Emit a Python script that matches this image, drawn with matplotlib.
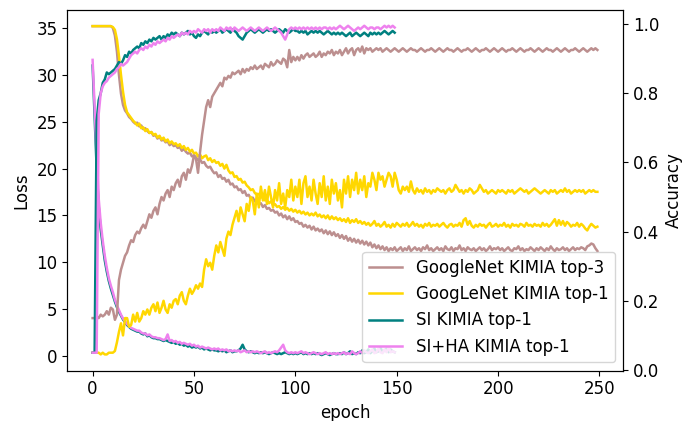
#!/usr/bin/env python
"""
Training curves (loss and accuracy) for the GoogLeNet and SI models on KIMIA.
Loss is read on the left axis, accuracy on the right one.
"""

import numpy as np
import matplotlib
matplotlib.use("Agg")
import matplotlib.pyplot as plt

# Legend labels, in the order they appear
labels = ["GoogleNet KIMIA top-3", "GoogLeNet KIMIA top-1", "SI KIMIA top-1", "SI+HA KIMIA top-1"]

# GoogLeNet top-1 loss (250 epochs)
gnet_top1_loss = [
    35.2, 35.2, 35.2, 35.2, 35.2, 35.2, 35.2, 35.2, 35.2, 35.2,
    35.1, 34.8, 33.8, 32.0, 30.0, 28.2, 26.8, 26.0, 25.7, 25.4, 25.1,
    24.9, 24.6, 24.8, 24.3, 24.4, 24.0, 24.2, 23.8, 23.9, 23.6,
    23.7, 23.3, 23.5, 23.1, 23.3, 22.9, 23.1, 22.7, 22.9, 22.6,
    22.7, 22.4, 22.6, 22.2, 22.4, 22.0, 22.2, 21.8, 22.0, 21.6,
    21.7, 21.3, 21.5, 21.1, 21.3, 21.4, 20.9, 21.1, 20.7, 20.9,
    20.6, 20.7, 20.3, 20.5, 20.0, 20.4, 19.8, 19.5, 19.6, 19.1,
    19.2, 18.8, 18.9, 18.5, 18.6, 18.2, 18.0, 17.7, 17.8, 17.4,
    17.2, 17.3, 16.9, 17.0, 16.6, 16.7, 16.3, 16.5, 16.1, 16.2,
    15.9, 16.0, 15.7, 15.9, 15.6, 15.8, 15.5, 15.7, 15.4, 15.6,
    15.3, 15.5, 15.2, 15.4, 15.1, 15.3, 15.0, 15.2, 15.0, 15.3,
    14.9, 15.1, 14.8, 15.0, 14.7, 15.0, 14.6, 14.9, 14.6, 14.8,
    14.5, 14.7, 14.4, 14.6, 14.3, 14.7, 14.2, 14.5, 14.3, 14.6,
    14.2, 14.4, 14.1, 14.3, 14.0, 14.2, 13.9, 14.1, 14.4, 13.9,
    14.1, 13.8, 14.0, 14.3, 13.8, 14.0, 13.7, 14.1, 13.8, 14.2,
    14.0, 13.8, 14.1, 13.9, 14.2, 13.8, 14.0, 14.3, 13.9, 14.1,
    13.8, 14.0, 13.7, 14.1, 13.9, 14.2, 13.8, 14.0, 13.9, 14.1,
    13.8, 14.0, 14.2, 13.9, 13.7, 14.0, 14.1, 13.8, 14.0, 13.9,
    14.2, 13.8, 14.5, 14.7, 14.0, 14.4, 13.9, 13.7, 14.0, 13.8,
    14.1, 13.9, 14.0, 13.7, 14.0, 14.2, 13.8, 13.9, 14.1, 13.8,
    14.0, 13.9, 14.2, 13.8, 14.0, 13.7, 14.1, 13.9, 14.0, 13.8,
    14.1, 14.0, 13.8, 14.2, 13.9, 14.0, 13.8, 14.1, 13.9, 14.0,
    13.8, 14.2, 13.9, 14.1, 13.8, 14.0, 14.3, 14.6, 13.9, 14.5,
    14.0, 14.4, 13.9, 14.3, 14.1, 13.8, 14.0, 13.9, 14.2, 13.8,
    14.1, 13.9, 13.6, 13.4, 13.8, 14.1, 13.9, 13.7, 13.8,
]

# GoogLeNet top-3 loss (250 epochs)
gnet_top3_loss = [
    35.2, 35.2, 35.2, 35.2, 35.2, 35.2, 35.2, 35.2, 35.2, 35.2,
    35.0, 34.2, 32.5, 30.0, 28.0, 26.8, 26.2, 25.9, 25.5, 25.3, 25.0,
    24.8, 24.9, 24.5, 24.6, 24.2, 24.3, 24.0, 23.8, 23.9, 23.5,
    23.6, 23.2, 23.4, 23.0, 23.1, 22.8, 22.9, 22.5, 22.7, 22.4,
    22.5, 22.2, 22.3, 21.9, 22.1, 21.8, 21.6, 21.7, 21.3, 21.4,
    21.2, 20.9, 21.0, 20.6, 20.7, 20.3, 20.1, 20.2, 19.8, 19.5,
    19.6, 19.1, 19.3, 18.9, 19.0, 18.6, 18.8, 18.3, 18.4, 18.0,
    18.1, 17.7, 17.8, 17.4, 17.6, 17.1, 17.2, 16.8, 16.9, 16.5,
    16.6, 16.2, 16.3, 15.9, 16.1, 15.7, 15.8, 15.5, 15.6, 15.3,
    15.4, 15.0, 15.2, 14.8, 15.0, 14.6, 14.9, 14.5, 14.7, 14.3,
    14.4, 14.1, 14.2, 13.8, 14.0, 13.7, 13.9, 13.5, 13.8, 13.4,
    13.6, 13.3, 13.5, 13.1, 13.4, 13.0, 13.3, 12.9, 13.2, 12.8,
    13.0, 12.6, 12.9, 12.5, 12.8, 12.3, 12.6, 12.2, 12.5, 12.1,
    12.4, 12.0, 12.3, 11.9, 12.2, 11.8, 12.1, 11.6, 11.9, 11.5,
    11.8, 11.4, 11.7, 11.3, 11.6, 11.2, 11.5, 11.3, 11.6, 11.2,
    11.4, 11.6, 11.2, 11.5, 11.3, 11.7, 11.2, 11.4, 11.6, 11.3,
    11.5, 11.2, 11.6, 11.4, 11.8, 11.3, 11.5, 11.2, 11.4, 11.6,
    11.3, 11.5, 11.2, 11.7, 11.4, 11.3, 11.6, 11.2, 11.5, 11.4,
    11.8, 11.3, 11.5, 11.2, 11.6, 11.4, 11.3, 11.5, 11.2, 11.4,
    11.6, 11.3, 11.5, 11.2, 11.4, 11.7, 11.3, 11.5, 11.4, 11.6,
    11.3, 11.5, 11.2, 11.4, 11.6, 11.3, 11.2, 11.5, 11.4, 11.7,
    11.3, 11.5, 11.2, 11.4, 11.3, 11.6, 11.4, 11.2, 11.5, 11.3,
    11.6, 11.4, 11.2, 11.5, 11.3, 11.7, 11.4, 11.2, 11.5, 11.3,
    11.4, 11.6, 11.3, 11.5, 11.2, 11.4, 11.6, 11.3, 11.5, 11.4,
    11.6, 11.5, 11.3, 11.7, 11.8, 12.0, 11.9, 11.5, 11.2,
]

# GoogLeNet top-1 accuracy (250 epochs)
gnet_top1_acc = [
    0.05, 0.05, 0.05, 0.05, 0.045, 0.05, 0.045, 0.045, 0.05, 0.05, 0.05, 0.055,
    0.08, 0.11, 0.135, 0.10, 0.15, 0.15, 0.125, 0.13, 0.16,
    0.14, 0.165, 0.14, 0.15, 0.17, 0.16, 0.175, 0.16, 0.18, 0.19,
    0.17, 0.195, 0.165, 0.18, 0.20, 0.175, 0.165, 0.19, 0.18, 0.20,
    0.205, 0.19, 0.215, 0.225, 0.20, 0.19, 0.215, 0.235, 0.22, 0.23,
    0.245, 0.235, 0.25, 0.24, 0.29, 0.32, 0.30, 0.31, 0.29, 0.33,
    0.36, 0.34, 0.37, 0.35, 0.33, 0.38, 0.40, 0.39, 0.42, 0.44,
    0.46, 0.43, 0.47, 0.45, 0.43, 0.48, 0.46, 0.50, 0.49, 0.45,
    0.51, 0.47, 0.53, 0.49, 0.52, 0.48, 0.53, 0.50, 0.47, 0.52,
    0.49, 0.54, 0.48, 0.51, 0.47, 0.52, 0.50, 0.55, 0.49, 0.53,
    0.50, 0.55, 0.48, 0.54, 0.56, 0.50, 0.53, 0.49, 0.55, 0.51,
    0.48, 0.54, 0.50, 0.56, 0.49, 0.53, 0.48, 0.55, 0.51, 0.54,
    0.49, 0.52, 0.47, 0.55, 0.51, 0.56, 0.50, 0.55, 0.52, 0.57,
    0.51, 0.55, 0.52, 0.56, 0.50, 0.54, 0.53, 0.57, 0.55, 0.52,
    0.57, 0.55, 0.56, 0.53, 0.55, 0.57, 0.56, 0.53, 0.57, 0.55,
    0.52, 0.51, 0.53, 0.52, 0.53, 0.515, 0.545, 0.52, 0.51, 0.525,
    0.515, 0.52, 0.51, 0.525, 0.515, 0.52, 0.51, 0.52, 0.515, 0.525,
    0.52, 0.515, 0.52, 0.51, 0.52, 0.525, 0.515, 0.52, 0.535, 0.525,
    0.515, 0.52, 0.51, 0.52, 0.515, 0.525, 0.52, 0.51, 0.515, 0.52,
    0.535, 0.525, 0.515, 0.52, 0.51, 0.515, 0.52, 0.515, 0.51, 0.52,
    0.515, 0.52, 0.515, 0.51, 0.52, 0.515, 0.52, 0.51, 0.515, 0.52,
    0.525, 0.52, 0.515, 0.52, 0.51, 0.515, 0.52, 0.525, 0.52, 0.515,
    0.51, 0.515, 0.52, 0.515, 0.51, 0.52, 0.515, 0.52, 0.51, 0.515,
    0.52, 0.515, 0.525, 0.515, 0.52, 0.51, 0.515, 0.52, 0.515, 0.52,
    0.515, 0.52, 0.51, 0.515, 0.52, 0.515, 0.52, 0.515, 0.515,
]

# GoogLeNet top-3 accuracy (250 epochs)
gnet_top3_acc = [
    0.15, 0.15, 0.155, 0.15, 0.16, 0.155, 0.16, 0.17, 0.16, 0.18, 0.175, 0.145, 0.16,
    0.26, 0.29, 0.31, 0.33, 0.34, 0.36, 0.375, 0.37,
    0.39, 0.40, 0.395, 0.41, 0.42, 0.41, 0.43, 0.45, 0.44, 0.46,
    0.47, 0.45, 0.48, 0.50, 0.49, 0.51, 0.52, 0.50, 0.53, 0.52,
    0.54, 0.55, 0.53, 0.56, 0.57, 0.55, 0.58, 0.57, 0.59, 0.62,
    0.61, 0.57, 0.63, 0.68, 0.72, 0.76, 0.78, 0.76, 0.79, 0.80,
    0.81, 0.82, 0.83, 0.82, 0.845, 0.84, 0.85, 0.845, 0.86, 0.855,
    0.86, 0.865, 0.855, 0.87, 0.86, 0.87, 0.865, 0.875, 0.87, 0.88,
    0.87, 0.875, 0.88, 0.87, 0.885, 0.88, 0.875, 0.89, 0.88, 0.885,
    0.895, 0.89, 0.885, 0.90, 0.895, 0.875, 0.925, 0.89, 0.905, 0.895,
    0.905, 0.895, 0.91, 0.90, 0.91, 0.915, 0.905, 0.91, 0.915, 0.905,
    0.91, 0.92, 0.905, 0.915, 0.91, 0.92, 0.915, 0.925, 0.91, 0.92,
    0.915, 0.925, 0.91, 0.92, 0.93, 0.915, 0.925, 0.93, 0.91, 0.925,
    0.93, 0.92, 0.935, 0.915, 0.93, 0.925, 0.93, 0.92, 0.925, 0.93,
    0.925, 0.93, 0.92, 0.925, 0.93, 0.925, 0.92, 0.925, 0.93, 0.925,
    0.92, 0.925, 0.93, 0.925, 0.92, 0.925, 0.93, 0.925, 0.925, 0.92,
    0.925, 0.93, 0.925, 0.92, 0.925, 0.925, 0.93, 0.925, 0.92, 0.925,
    0.93, 0.925, 0.92, 0.925, 0.93, 0.925, 0.925, 0.92, 0.925, 0.93,
    0.925, 0.92, 0.925, 0.925, 0.93, 0.925, 0.92, 0.925, 0.93, 0.925,
    0.92, 0.925, 0.925, 0.93, 0.925, 0.92, 0.925, 0.93, 0.925, 0.92,
    0.925, 0.93, 0.925, 0.92, 0.925, 0.925, 0.93, 0.925, 0.92, 0.925,
    0.93, 0.925, 0.92, 0.925, 0.925, 0.93, 0.925, 0.92, 0.925, 0.93,
    0.925, 0.92, 0.925, 0.93, 0.925, 0.925, 0.92, 0.925, 0.93, 0.925,
    0.92, 0.925, 0.93, 0.925, 0.92, 0.925, 0.925, 0.93, 0.925, 0.92,
    0.925, 0.93, 0.925, 0.92, 0.925, 0.93, 0.925, 0.93, 0.925,
]

# SI top-1 loss / accuracy (150 epochs)
si_loss = [
    31.0, 25.5, 20.0, 16.0, 13.5, 11.8, 10.2, 9.0, 8.0, 7.2, 6.5, 5.8, 5.2, 4.7, 4.3, 3.9, 3.6, 3.3, 3.1, 2.9, 2.8,
    2.7, 2.6, 2.6, 2.4, 2.3, 2.4, 2.1, 2.2, 2.0, 1.9,
    1.9, 1.8, 1.8, 1.7, 1.6, 1.7, 1.6, 1.5, 1.4, 1.5,
    1.3, 1.4, 1.2, 1.3, 1.1, 1.2, 1.0, 1.1, 0.9, 1.0,
    0.9, 1.0, 0.8, 0.9, 0.7, 0.8, 0.7, 0.6, 0.7, 0.6,
    0.6, 0.5, 0.6, 0.5, 0.6, 0.4, 0.5, 0.6, 0.4, 0.5,
    0.5, 0.6, 0.8, 1.2, 0.7, 0.5, 0.4, 0.5, 0.4, 0.3,
    0.4, 0.3, 0.4, 0.3, 0.4, 0.3, 0.2, 0.3, 0.4, 0.3,
    0.2, 0.3, 0.2, 0.3, 0.4, 0.3, 0.2, 0.3, 0.2, 0.3,
    0.2, 0.3, 0.4, 0.2, 0.3, 0.2, 0.3, 0.2, 0.3, 0.2,
    0.3, 0.2, 0.1, 0.2, 0.3, 0.2, 0.1, 0.2, 0.3, 0.2,
    0.2, 0.3, 0.2, 0.4, 0.2, 0.3, 0.5, 0.2, 0.3, 0.2,
    0.4, 0.3, 0.6, 0.3, 0.4, 0.7, 0.3, 0.5, 0.8, 0.4,
    0.5, 0.9, 0.4, 0.6, 0.8, 0.4, 0.7, 0.5, 0.4,
]
si_acc = [
    0.05, 0.05, 0.72, 0.78, 0.80, 0.83, 0.84, 0.86, 0.855, 0.86, 0.865, 0.87, 0.88, 0.89, 0.885, 0.895, 0.91, 0.905, 0.92, 0.915, 0.925,
    0.93, 0.935, 0.93, 0.945, 0.94, 0.95, 0.945, 0.955, 0.95, 0.96,
    0.955, 0.96, 0.965, 0.955, 0.965, 0.96, 0.97, 0.965, 0.975, 0.97,
    0.975, 0.97, 0.965, 0.975, 0.97, 0.975, 0.98, 0.97, 0.975, 0.965,
    0.96, 0.97, 0.965, 0.975, 0.98, 0.975, 0.97, 0.98, 0.975, 0.98,
    0.975, 0.98, 0.985, 0.975, 0.98, 0.985, 0.98, 0.975, 0.985, 0.98,
    0.975, 0.965, 0.96, 0.955, 0.965, 0.975, 0.98, 0.985, 0.98, 0.975,
    0.98, 0.985, 0.98, 0.975, 0.98, 0.985, 0.98, 0.985, 0.98, 0.975,
    0.98, 0.985, 0.98, 0.975, 0.985, 0.98, 0.975, 0.98, 0.985, 0.98,
    0.98, 0.975, 0.98, 0.975, 0.98, 0.97, 0.975, 0.98, 0.975, 0.98,
    0.975, 0.98, 0.975, 0.97, 0.975, 0.98, 0.975, 0.97, 0.975, 0.97,
    0.975, 0.97, 0.975, 0.97, 0.965, 0.97, 0.975, 0.965, 0.97, 0.975,
    0.97, 0.965, 0.97, 0.975, 0.97, 0.965, 0.975, 0.97, 0.975, 0.97,
    0.975, 0.97, 0.975, 0.98, 0.975, 0.97, 0.975, 0.98, 0.975,
]

# SI+HA top-1 loss / accuracy (150 epochs)
si_ha_loss = [
    31.6, 26.5, 21.5, 16.8, 14.2, 12.3, 10.7, 9.4, 8.3, 7.5, 6.8, 6.0, 5.4, 4.9, 4.4, 4.0, 3.7, 3.4, 3.2, 3.0, 2.9,
    2.8, 2.7, 2.7, 2.5, 2.4, 2.4, 2.2, 2.3, 2.1, 2.0,
    2.0, 1.9, 1.9, 1.8, 1.7, 1.8, 2.3, 1.6, 1.7, 1.5,
    1.6, 1.4, 1.5, 1.3, 1.4, 1.3, 1.2, 1.3, 1.1, 1.2,
    1.0, 1.1, 0.9, 1.0, 0.9, 0.8, 0.9, 0.8, 0.7, 0.8,
    0.7, 0.8, 0.6, 0.7, 0.6, 0.7, 0.5, 0.6, 0.5, 0.6,
    0.5, 0.6, 0.4, 0.5, 0.6, 0.4, 0.5, 0.4, 0.5, 0.4,
    0.5, 0.4, 0.3, 0.4, 0.5, 0.3, 0.4, 0.3, 0.4, 0.5,
    0.4, 0.6, 0.9, 1.2, 0.6, 0.4, 0.3, 0.4, 0.3, 0.4,
    0.3, 0.4, 0.5, 0.3, 0.4, 0.3, 0.2, 0.3, 0.4, 0.3,
    0.2, 0.3, 0.2, 0.3, 0.4, 0.2, 0.3, 0.2, 0.3, 0.2,
    0.3, 0.2, 0.3, 0.4, 0.2, 0.3, 0.2, 0.5, 0.3, 0.2,
    0.3, 0.5, 0.3, 0.6, 0.4, 0.3, 0.5, 0.7, 0.3, 0.4,
    0.8, 0.4, 0.3, 0.7, 0.4, 0.9, 0.4, 0.5, 0.4,
]
si_ha_acc = [
    0.05, 0.05, 0.05, 0.74, 0.80, 0.82, 0.83, 0.835, 0.845, 0.85, 0.855, 0.86, 0.87, 0.875, 0.885, 0.88, 0.885, 0.89, 0.90, 0.91, 0.915,
    0.92, 0.915, 0.925, 0.93, 0.925, 0.935, 0.93, 0.94, 0.935, 0.945,
    0.94, 0.95, 0.945, 0.95, 0.955, 0.95, 0.96, 0.955, 0.965, 0.96,
    0.965, 0.97, 0.965, 0.975, 0.97, 0.975, 0.97, 0.98, 0.975, 0.98,
    0.975, 0.985, 0.98, 0.975, 0.985, 0.98, 0.985, 0.975, 0.985, 0.98,
    0.985, 0.98, 0.99, 0.985, 0.98, 0.99, 0.985, 0.99, 0.98, 0.99,
    0.985, 0.98, 0.985, 0.99, 0.985, 0.98, 0.985, 0.99, 0.985, 0.98,
    0.985, 0.99, 0.985, 0.98, 0.985, 0.99, 0.985, 0.98, 0.985, 0.99,
    0.985, 0.98, 0.975, 0.965, 0.955, 0.97, 0.985, 0.99, 0.985, 0.99,
    0.985, 0.99, 0.985, 0.99, 0.985, 0.99, 0.985, 0.99, 0.985, 0.99,
    0.985, 0.99, 0.985, 0.99, 0.99, 0.985, 0.99, 0.985, 0.99, 0.985,
    0.99, 0.995, 0.99, 0.985, 0.99, 0.995, 0.99, 0.985, 0.98, 0.985,
    0.99, 0.985, 0.99, 0.995, 0.99, 0.985, 0.99, 0.99, 0.985, 0.99,
    0.99, 0.985, 0.99, 0.995, 0.99, 0.995, 0.99, 0.995, 0.99,
]

colors = ["rosybrown", "gold", "teal", "violet"]


def main():
    # Sanity check on hand-typed series lengths
    for name, series, n in [("gnet_top1_loss", gnet_top1_loss, 250), ("gnet_top3_loss", gnet_top3_loss, 250),
                            ("gnet_top1_acc", gnet_top1_acc, 250), ("gnet_top3_acc", gnet_top3_acc, 250),
                            ("si_loss", si_loss, 150), ("si_acc", si_acc, 150),
                            ("si_ha_loss", si_ha_loss, 150), ("si_ha_acc", si_ha_acc, 150)]:
        if len(series) != n:
            raise ValueError(f"{name}: {len(series)} values, expected {n}")

    losses = [gnet_top3_loss, gnet_top1_loss, si_loss, si_ha_loss]
    accs = [gnet_top3_acc, gnet_top1_acc, si_acc, si_ha_acc]

    # 12pt text at 100 dpi, like the original
    plt.rcParams["font.size"] = 12
    plt.rcParams["lines.linewidth"] = 1.8

    fig, ax = plt.subplots(figsize=(6.85, 4.21), dpi=100)
    fig.subplots_adjust(left=0.0982, right=0.910, bottom=0.1195, top=0.9762)
    ax2 = ax.twinx()

    handles = []
    for loss, acc, color, label in zip(losses, accs, colors, labels):
        line, = ax.plot(np.arange(len(loss)), loss, color=color, label=label)
        ax2.plot(np.arange(len(acc)), acc, color=color)
        handles.append(line)

    ax.set_xlim(-12.5, 261.8)
    ax.set_ylim(-1.57, 36.92)
    ax2.set_ylim(-0.002, 1.0405)
    ax.set_xticks([0, 50, 100, 150, 200, 250])
    ax.set_yticks([0, 5, 10, 15, 20, 25, 30, 35])
    ax2.set_yticks([0.0, 0.2, 0.4, 0.6, 0.8, 1.0])

    ax.set_xlabel("epoch")
    ax.set_ylabel("Loss")
    ax2.set_ylabel("Accuracy")

    ax2.legend(handles=handles, loc="lower right")

    fig.savefig("out.png", dpi=100)


if __name__ == "__main__":
    main()
